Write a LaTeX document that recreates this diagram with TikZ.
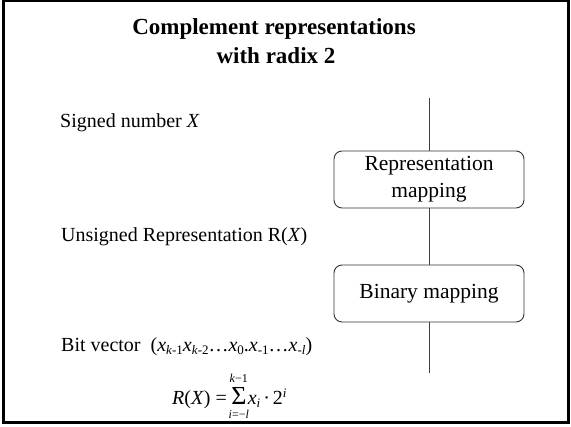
\documentclass[tikz,border=0pt]{standalone}
\usepackage{fontspec}
\setmainfont{Liberation Serif}
\newcommand{\sbs}[1]{\raisebox{-0.3ex}{\fontsize{13}{13}\selectfont #1}}
\newcommand{\sps}[1]{\raisebox{0.85ex}{\fontsize{13}{13}\selectfont #1}}
\begin{document}
\begin{tikzpicture}[x=1pt,y=-1pt,
  body/.style={font=\fontsize{20}{24}\selectfont, anchor=base west, inner sep=0},
  limtext/.style={font=\fontsize{12}{12}\selectfont, anchor=base, inner sep=0},
  titletext/.style={font=\fontsize{23}{28}\selectfont\bfseries, anchor=base, inner sep=0},
  mapbox/.style={draw=black!80, rounded corners=8pt, line width=0.9pt, minimum width=190pt, minimum height=57pt, align=center, font=\fontsize{21.5}{27}\selectfont, inner sep=0},
  conn/.style={draw=black!75, line width=0.9pt}]
\useasboundingbox (0,0) rectangle (571,427);
\fill[white] (0,0) rectangle (571,427);
\draw[line width=3pt] (3.5,1) rectangle (568.5,423);
\node[titletext] (t1) at (274,35) {Complement representations};
\node[titletext] (t2) at (276,64) {with radix 2};
\node[body] (signed) at (60,128) {Signed number \textit{X}};
\node[body] (unsigned) at (61,242) {Unsigned Representation R(\textit{X})};
\node[body] (bitvec) at (61,352) {Bit vector\hspace{10pt}(\textit{x}\sbs{\textit{k}-1}\textit{x}\sbs{\textit{k}-2}…\textit{x}\sbs{0}.\textit{x}\sbs{-1}…\textit{x}\sbs{-\textit{l}})};
\node[body] (lhs) at (172,405) {\textit{R}(\textit{X})\hspace{5pt}=};
\node[body, font=\fontsize{26}{26}\selectfont] (sig) at ([xshift=4pt]lhs.base east) {Σ};
\node[limtext] (up) at ([yshift=22.5pt]sig.base) {\textit{k}−1};
\node[limtext] (down) at ([yshift=-13.5pt]sig.base) {\textit{i}=−\textit{l}};
\node[body] (rhs) at ([xshift=1pt]sig.base east) {\textit{x}\sbs{\textit{i}}\hspace{3pt}·\hspace{3pt}2\sps{\textit{i}}};
\node[mapbox] (repmap) at (429,179.5) {Representation\\mapping};
\node[mapbox] (binmap) at (429,293.5) {Binary mapping};
\coordinate (ltop) at (429,98);
\coordinate (lbot) at (429,373);
\draw[conn] (ltop) -- (repmap.north);
\draw[conn] (repmap.south) -- (binmap.north);
\draw[conn] (binmap.south) -- (lbot);
\end{tikzpicture}
\end{document}
